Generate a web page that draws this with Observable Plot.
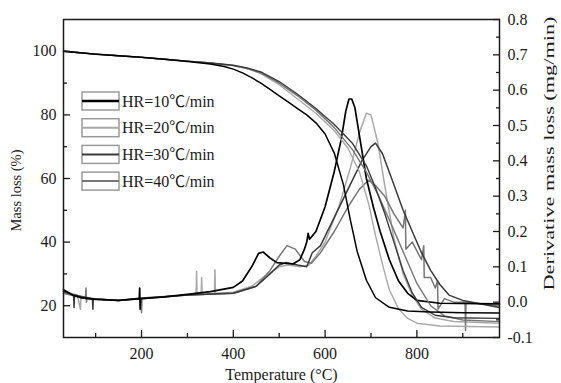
<!DOCTYPE html>
<html><head><meta charset="utf-8">
<script src="https://cdn.jsdelivr.net/npm/d3@7"></script>
<script src="https://cdn.jsdelivr.net/npm/@observablehq/plot@0.6"></script>
<style>
body{margin:0;background:#fff;}
#wrap{position:relative;width:561px;height:383px;}
#legend{position:absolute;left:0;top:0;pointer-events:none;}
</style>
</head><body>
<div id="wrap"></div>
<script>
// Series names and colours
const names = ["HR=10℃/min", "HR=20℃/min", "HR=30℃/min", "HR=40℃/min"];
const colors = ["#000000", "#a8a8a8", "#3a3a3a", "#767676"];

// Axis ticks
const xMajor = [200, 400, 600, 800];
const xMinor = [100, 300, 500, 700, 900];
const yMajor = [20, 40, 60, 80, 100];
const yMinor = [30, 50, 70, 90];
const rMajor = [-0.1, 0, 0.1, 0.2, 0.3, 0.4, 0.5, 0.6, 0.7, 0.8];
const rMinor = [-0.05, 0.05, 0.15, 0.25, 0.35, 0.45, 0.55, 0.65, 0.75];

// Mass loss (%) curves: [temperature, value]
const tg10 = [[30,100],[60,99.6],[100,99.1],[150,98.6],[200,98.1],[250,97.5],[300,96.8],[350,96],[380,95.2],[400,94.4],[420,93.2],[440,91.7],[460,90],[480,88],[500,86],[520,84],[540,82],[560,80],[580,77.5],[600,74],[620,68],[640,58],[655,47],[670,37],[690,28],[710,22.5],[740,19.5],[780,18.3],[830,18],[900,17.8],[980,17.7]];
const tg20 = [[30,100],[60,99.6],[100,99.1],[150,98.6],[200,98.1],[250,97.5],[300,96.9],[350,96.3],[400,95.5],[430,94.6],[460,93],[500,89.5],[540,85],[580,80.5],[620,75],[650,69.5],[675,62],[695,52],[710,42],[725,33],[740,25],[760,19],[780,16],[800,14.5],[850,13.6],[980,13.3]];
const tg30 = [[30,100],[60,99.6],[100,99.1],[150,98.6],[200,98.1],[250,97.5],[300,96.9],[350,96.3],[400,95.6],[430,94.8],[460,93.5],[500,90.5],[540,86.5],[580,82],[620,77],[660,71],[690,64],[710,57],[730,49],[750,40],[770,31],[790,24],[810,19.5],[840,17],[880,16.2],[980,16]];
const tg40 = [[30,100],[60,99.6],[100,99.1],[150,98.6],[200,98.1],[250,97.5],[300,96.9],[350,96.3],[400,95.5],[430,94.6],[460,93.2],[500,90],[540,86],[580,81.5],[620,76],[660,69],[690,62],[715,55],[740,47],[770,37],[800,27],[830,20],[860,16.8],[900,15.5],[980,15]];

// Derivative mass loss (mg/min) curves: [temperature, value]
const dtg10 = [[30,0.035],[50,0.02],[70,0.012],[100,0.008],[150,0.005],[195,0.01],[196,0.04],[197,-0.02],[198,0.01],[250,0.015],[300,0.022],[350,0.03],[400,0.042],[420,0.06],[440,0.1],[455,0.138],[465,0.142],[480,0.125],[495,0.112],[530,0.108],[545,0.12],[555,0.15],[560,0.17],[563,0.195],[566,0.178],[580,0.2],[600,0.27],[620,0.37],[635,0.46],[645,0.54],[652,0.575],[658,0.575],[665,0.55],[675,0.47],[690,0.35],[705,0.27],[720,0.2],[740,0.12],[760,0.06],[780,0.025],[800,0.005],[850,-0.003],[980,-0.005]];
const dtg20 = [[30,0.03],[60,0.02],[67,-0.02],[68,0.015],[100,0.01],[150,0.005],[200,0.012],[250,0.015],[300,0.02],[319,0.022],[320,0.087],[321,0.022],[330,0.022],[331,0.07],[332,0.022],[359,0.025],[360,0.092],[361,0.025],[400,0.028],[440,0.045],[470,0.075],[500,0.1],[520,0.105],[545,0.1],[565,0.105],[580,0.13],[600,0.17],[630,0.27],[655,0.38],[675,0.48],[690,0.535],[700,0.53],[715,0.45],[730,0.33],[750,0.18],[770,0.08],[790,0.02],[810,-0.02],[840,-0.045],[880,-0.055],[980,-0.06]];
const dtg30 = [[30,0.03],[52,0.02],[53,-0.015],[54,0.02],[93,0.01],[94,-0.02],[95,0.01],[150,0.005],[200,0.01],[300,0.02],[400,0.025],[450,0.045],[480,0.08],[500,0.105],[515,0.112],[540,0.105],[560,0.1],[572,0.14],[590,0.16],[620,0.24],[650,0.32],[680,0.4],[700,0.44],[710,0.45],[725,0.42],[745,0.35],[770,0.26],[790,0.2],[810,0.14],[830,0.09],[850,0.05],[870,0.02],[900,0.005],[980,-0.015]];
const dtg40 = [[30,0.025],[78,0.01],[79,0.04],[80,0.0],[81,0.01],[150,0.005],[199,0.012],[200,-0.03],[201,0.012],[300,0.02],[400,0.025],[450,0.045],[480,0.09],[500,0.13],[517,0.16],[535,0.15],[555,0.115],[570,0.11],[590,0.14],[620,0.2],[650,0.27],[675,0.32],[695,0.345],[710,0.33],[730,0.3],[750,0.25],[770,0.21],[775,0.26],[776,0.15],[790,0.17],[810,0.12],[815,0.16],[816,0.07],[830,0.07],[840,0.04],[845,0.06],[846,-0.02],[860,0.01],[880,0.0],[905,0.0],[906,-0.08],[907,0.0],[980,-0.01]];

const tgs = [tg10, tg20, tg30, tg40];
const dtgs = [dtg10, dtg20, dtg30, dtg40];

// map right-axis values into the left-axis domain
const L0 = 10, L1 = 110, R0 = -0.1, R1 = 0.8;
const toL = v => L0 + (v - R0) / (R1 - R0) * (L1 - L0);
const fromL = y => R0 + (y - L0) / (L1 - L0) * (R1 - R0);

const font = "'Liberation Serif','Times New Roman','Noto Sans CJK SC',serif";
const order = [1, 3, 2, 0];
const lineMarks = [];
for (const i of order) {
  lineMarks.push(Plot.line(dtgs[i], {x: d => d[0], y: d => toL(d[1]), stroke: colors[i], strokeWidth: i === 0 ? 1.7 : 1.5}));
}
for (const i of order) {
  lineMarks.push(Plot.line(tgs[i], {x: d => d[0], y: d => d[1], stroke: colors[i], strokeWidth: i === 0 ? 1.5 : 1.4}));
}

const chart = Plot.plot({
  width: 561, height: 383,
  marginLeft: 63, marginRight: 62, marginTop: 19, marginBottom: 46,
  style: {fontFamily: font, fontSize: "16px", color: "#1a1a1a", background: "#fff"},
  x: {domain: [30, 980]},
  y: {domain: [L0, L1]},
  marks: [
    ...lineMarks,
    Plot.axisX(xMajor, {tickSize: 0, tickPadding: 10, fontSize: 16, label: "Temperature (°C)", labelAnchor: "center", labelOffset: 42, labelArrow: "none"}),
    Plot.axisX(xMajor, {tickSize: -7, tickFormat: () => "", label: null, strokeWidth: 1.3}),
    Plot.axisX(xMinor, {tickSize: -4, tickFormat: () => "", label: null, strokeWidth: 1.3}),
    Plot.axisY(yMajor, {tickSize: 0, tickPadding: 7, fontSize: 16, label: "Mass loss (%)", labelAnchor: "center", labelOffset: 53, labelArrow: "none"}),
    Plot.axisY(yMajor, {tickSize: -7, tickFormat: () => "", label: null, strokeWidth: 1.3}),
    Plot.axisY(yMinor, {tickSize: -4, tickFormat: () => "", label: null, strokeWidth: 1.3}),
    Plot.axisY(rMajor.map(toL), {anchor: "right", tickSize: 0, tickPadding: 8, fontSize: 16,
      tickFormat: d => { const v = fromL(d); return (Math.abs(v) < 1e-9 ? 0 : v).toFixed(1); },
      label: "Derivative mass loss (mg/min)", labelAnchor: "center", labelOffset: 54, labelArrow: "none"}),
    Plot.axisY(rMajor.map(toL), {anchor: "right", tickSize: -7, tickFormat: () => "", label: null, strokeWidth: 1.3}),
    Plot.axisY(rMinor.map(toL), {anchor: "right", tickSize: -4, tickFormat: () => "", label: null, strokeWidth: 1.3}),
    Plot.frame({stroke: "#1a1a1a", strokeWidth: 1.5})
  ]
});

const wrap = document.getElementById("wrap");
wrap.appendChild(chart);

// stretch axis titles to the reference's lengths and positions
const labels = d3.select(chart).selectAll("g[aria-label='y-axis label'] text").nodes();
labels.forEach(n => {
  const t = n.textContent;
  if (t.startsWith("Mass")) {
    n.setAttribute("textLength", 82); n.setAttribute("lengthAdjust", "spacingAndGlyphs");
    n.setAttribute("dx", -12); n.setAttribute("font-size", 14.5);
  }
  if (t.startsWith("Deriv")) {
    n.setAttribute("textLength", 274); n.setAttribute("lengthAdjust", "spacingAndGlyphs");
    n.setAttribute("dx", 25); n.setAttribute("font-size", 15);
  }
});

// legend overlay
const svg = d3.select(wrap).append("svg").attr("id", "legend").attr("width", 561).attr("height", 383);
names.forEach((nm, i) => {
  const top = 92 + i * 26.7;
  const g = svg.append("g");
  g.append("rect").attr("x", 82).attr("y", top).attr("width", 37).attr("height", 18)
    .attr("fill", "none").attr("stroke", "#9a9a9a").attr("stroke-width", 1.5);
  g.append("line").attr("x1", 82).attr("x2", 119).attr("y1", top + 9).attr("y2", top + 9)
    .attr("stroke", colors[i]).attr("stroke-width", i === 0 ? 2.4 : 2);
  g.append("text").attr("x", 122).attr("y", top + 9).attr("dy", "0.35em")
    .attr("font-family", font).attr("font-size", 16).attr("fill", "#1a1a1a").text(nm);
});
</script>
</body></html>
